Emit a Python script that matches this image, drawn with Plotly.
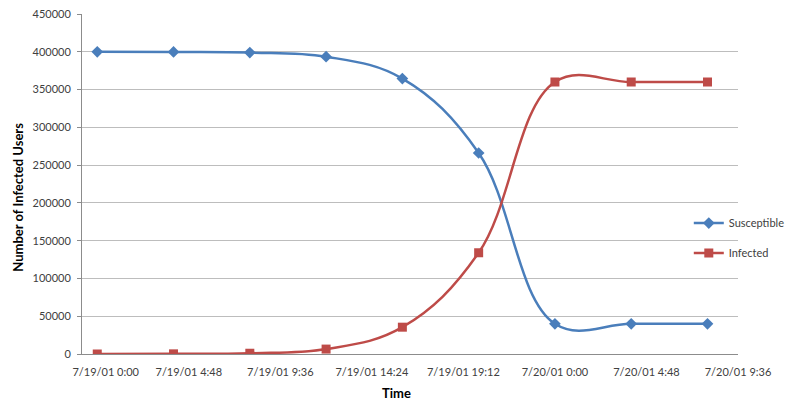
import plotly.graph_objects as go

# Sample times (every 4 hours) and user counts
times = [
    "2001-07-19 00:00", "2001-07-19 04:00", "2001-07-19 08:00",
    "2001-07-19 12:00", "2001-07-19 16:00", "2001-07-19 20:00",
    "2001-07-20 00:00", "2001-07-20 04:00", "2001-07-20 08:00",
]
susceptible = [400000, 399800, 399000, 393500, 364500, 266000, 40000, 40000, 40000]
infected = [0, 200, 1000, 6500, 35500, 134000, 360000, 360000, 360000]

tick_vals = [
    "2001-07-19 00:00", "2001-07-19 04:48", "2001-07-19 09:36",
    "2001-07-19 14:24", "2001-07-19 19:12", "2001-07-20 00:00",
    "2001-07-20 04:48", "2001-07-20 09:36",
]
tick_text = [
    "\u00a0" * 6 + "7/19/01 0:00", "7/19/01 4:48", "7/19/01 9:36",
    "7/19/01 14:24", "7/19/01 19:12", "7/20/01 0:00",
    "7/20/01 4:48", "7/20/01 9:36",
]

FONT = "Lato"
TEXT = "#404040"

fig = go.Figure()
fig.add_trace(go.Scatter(
    x=times, y=susceptible, name="Susceptible", mode="lines+markers",
    legendgroup="s",
    line=dict(color="#4A7EBB", width=2.5, shape="spline", smoothing=1.1),
    marker=dict(symbol="diamond", size=9, color="#4A7EBB"),
))
fig.add_trace(go.Scatter(
    x=times, y=infected, name="Infected", mode="lines+markers",
    legendgroup="i",
    line=dict(color="#BE4B48", width=2.5, shape="spline", smoothing=1.1),
    marker=dict(symbol="square", size=9, color="#BE4B48"),
))

fig.update_layout(
    width=786, height=402,
    margin=dict(l=82, r=48, t=14, b=48, autoexpand=False),
    paper_bgcolor="white", plot_bgcolor="white",
    font=dict(family=FONT, size=11, color=TEXT),
    showlegend=True,
    legend=dict(
        x=0.925, y=0.341, xanchor="left", yanchor="middle",
        bgcolor="rgba(0,0,0,0)", font=dict(size=11, color=TEXT),
        tracegroupgap=11, itemwidth=30,
    ),
    xaxis=dict(
        type="date",
        range=["2001-07-18 23:12", "2001-07-20 09:36"],
        tickvals=tick_vals, ticktext=tick_text,
        showgrid=False, showline=True, linecolor="#8c8c8c", linewidth=1,
        ticks="", ticklabelstandoff=8, zeroline=False,
        tickfont=dict(size=11, color=TEXT),
    ),
    yaxis=dict(
        range=[0, 450000], dtick=50000, tickformat="d",
        showgrid=True, gridcolor="#bdbdbd", gridwidth=1,
        showline=True, linecolor="#8c8c8c", linewidth=1,
        ticks="outside", ticklen=4, tickcolor="#8c8c8c",
        ticklabelstandoff=4, zeroline=False,
        tickfont=dict(size=11, color=TEXT),
    ),
    annotations=[
        dict(text="<b>Number of Infected Users</b>", textangle=-90,
             xref="paper", yref="paper", x=-0.098, y=0.462,
             xanchor="center", yanchor="middle",
             showarrow=False, font=dict(size=13, color="black", family=FONT)),
        dict(text="<b>Time</b>", xref="paper", yref="paper",
             x=0.479, y=-0.115, xanchor="center", yanchor="middle",
             showarrow=False, font=dict(size=13, color="black", family=FONT)),
    ],
)

fig.write_html("out.html")
